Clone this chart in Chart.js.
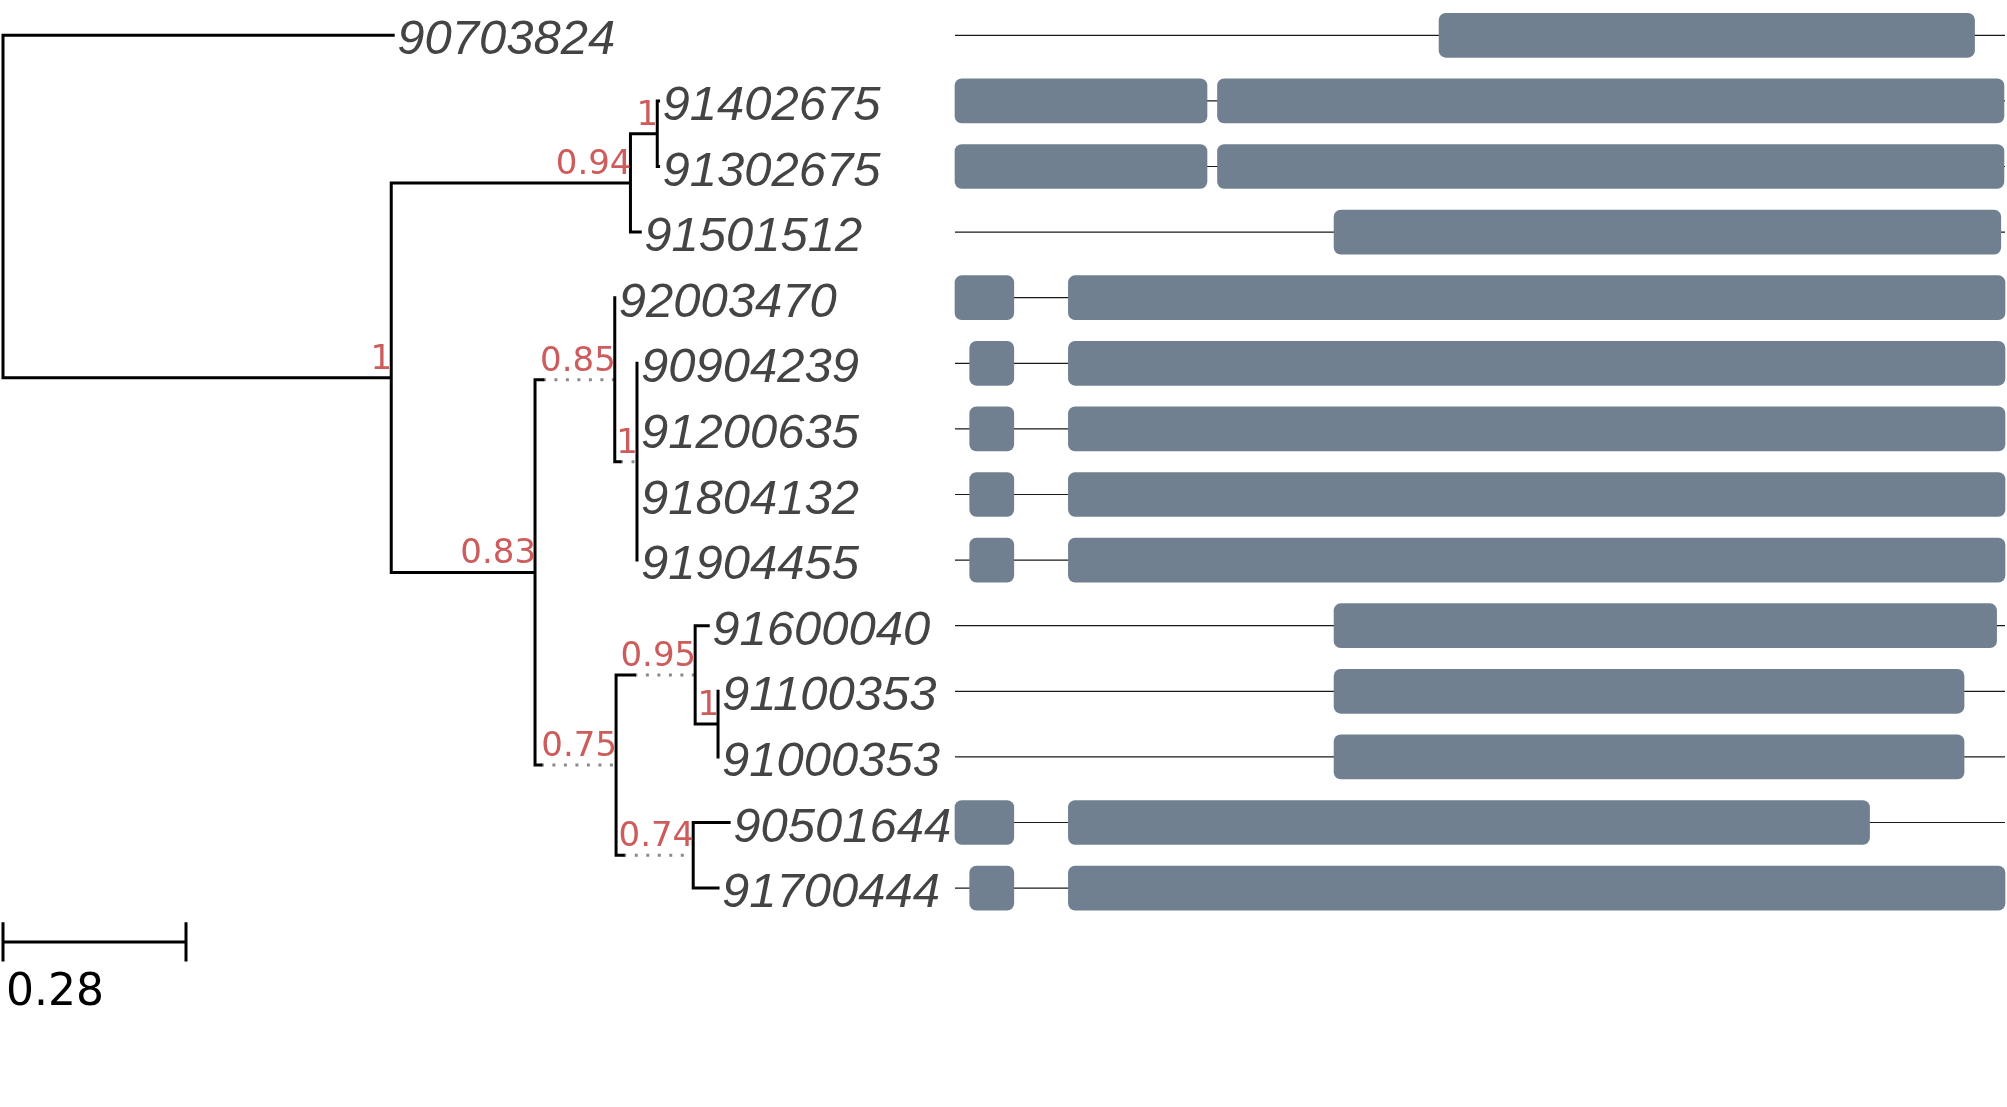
<!DOCTYPE html>
<html><head><meta charset="utf-8">
<script src="https://cdn.jsdelivr.net/npm/chart.js@4.4.0/dist/chart.umd.min.js"></script>
<style>html,body{margin:0;padding:0;background:#fff;overflow:hidden}#wrap{width:2007px;height:1107px;position:relative}</style>
</head><body><div id="wrap"><canvas id="c" width="2007" height="1107"></canvas></div>
<script>
// ---- tree data ----
const tipLabels = ['90703824','91402675','91302675','91501512','92003470','90904239','91200635','91804132','91904455','91600040','91100353','91000353','90501644','91700444'];
const tipParents = ['R','C','C','B','E','F','F','F','F','H','I','I','J','J'];
const tipBranchLengths = [0.597,0.002,0.002,0.015,0,0,0,0,0,0.020,0,0,0.055,0.038];
const nodeIds = ['R','A','B','C','D','E','F','G','H','I','J'];
const nodeParents = [null,'R','A','B','A','D','E','D','G','H','G'];
const nodeBranchLengths = [0,0.594,0.366,0.041,0.220,0.122,0.034,0.124,0.121,0.035,0.118];
const nodeSupport = ['','1','0.94','1','0.83','0.85','1','0.75','0.95','1','0.74'];
const nodeSolidLengths = [null,null,null,null,null,0.012,0.008,0.009,0.028,null,0.011];
const scaleBarLength = 0.28;
// ---- gene structure data ----
const geneLengths = [1000,1000,1000,1000,1000,1000,1000,1000,1000,1000,1000,1000,1000,1000];
const exon1 = [[461,971],[0,240],[0,240],[361,996],[0,56],[14,56],[14,56],[14,56],[14,56],[361,992],[361,961],[361,961],[0,56],[14,56]];
const exon2 = [null,[250,999],[250,999],null,[108,1000],[108,1000],[108,1000],[108,1000],[108,1000],null,null,null,[108,871],[108,1000]];

// ---- derive layout from tree ----
const nX = {}, nY = {};
nodeIds.forEach((id,i)=>{});
function nodeX(id){
  if (nX[id] !== undefined) return nX[id];
  const i = nodeIds.indexOf(id);
  const p = nodeParents[i];
  nX[id] = p === null ? 0 : nodeX(p) + nodeBranchLengths[i];
  return nX[id];
}
function childYs(id){
  const ys = [];
  tipParents.forEach((p,t)=>{ if(p===id) ys.push(t); });
  nodeIds.forEach((n,i)=>{ if(nodeParents[i]===id) ys.push(nodeY(n)); });
  return ys;
}
function nodeY(id){
  if (nY[id] !== undefined) return nY[id];
  const ys = childYs(id);
  nY[id] = ys.reduce((a,b)=>a+b,0)/ys.length;
  return nY[id];
}
nodeIds.forEach(id=>{nodeX(id);nodeY(id);});
const tipX = tipParents.map((p,t)=>nodeX(p)+tipBranchLengths[t]);

const GAP = {x:null,y:null};
const solid = [], dotted = [];
function seg(arr,x1,y1,x2,y2){ arr.push({x:x1,y:y1},{x:x2,y:y2},GAP); }
// verticals
nodeIds.forEach(id=>{
  const ys = childYs(id);
  seg(solid, nX[id], Math.min(...ys), nX[id], Math.max(...ys));
});
// node horizontals
nodeIds.forEach((id,i)=>{
  const p = nodeParents[i]; if (p===null) return;
  const s = nodeSolidLengths[i];
  if (s===null) seg(solid, nX[p], nY[id], nX[id], nY[id]);
  else { seg(solid, nX[p], nY[id], nX[p]+s, nY[id]); seg(dotted, nX[p]+s, nY[id], nX[id], nY[id]); }
});
// tip horizontals
tipParents.forEach((p,t)=>{ if (tipBranchLengths[t]>0) seg(solid, nX[p], t, tipX[t], t); });

const introns = [];
geneLengths.forEach((L,i)=>seg(introns,0,i,L,i));
const sbY = tipLabels.length - 1 + 0.82;
const scaleBar = [];
seg(scaleBar,0,sbY,scaleBarLength,sbY);
seg(scaleBar,0,sbY-0.3,0,sbY+0.3);
seg(scaleBar,scaleBarLength,sbY-0.3,scaleBarLength,sbY+0.3);

const toBars = arr => arr.map((e,i)=>({y:i,x:e})).filter(d=>d.x);

const textPlugin = {
  id:'treeText',
  afterDatasetsDraw(chart){
    const ctx = chart.ctx, xs = chart.scales.x, ys = chart.scales.y;
    ctx.save();
    ctx.font = 'italic 49px "Liberation Sans", Arial, sans-serif';
    ctx.fillStyle = '#444444'; ctx.textAlign='left'; ctx.textBaseline='alphabetic';
    tipLabels.forEach((l,t)=>ctx.fillText(l, xs.getPixelForValue(tipX[t])+4, ys.getPixelForValue(t)+19));
    ctx.font = '34px "DejaVu Sans", sans-serif';
    ctx.fillStyle = '#CD5C5C'; ctx.textAlign='right';
    nodeIds.forEach((id,i)=>{ if(nodeSupport[i]) ctx.fillText(nodeSupport[i], xs.getPixelForValue(nX[id])+1, ys.getPixelForValue(nY[id])-9); });
    ctx.font = '44px "DejaVu Sans", sans-serif';
    ctx.fillStyle = '#000'; ctx.textAlign='left';
    ctx.fillText(String(scaleBarLength), xs.getPixelForValue(0)+3, ys.getPixelForValue(sbY+0.96));
    ctx.restore();
  }
};

const lineBase = {type:'line', indexAxis:'x', yAxisID:'y', pointRadius:0, pointHoverRadius:0, fill:false, spanGaps:false, tension:0};

function draw(){
new Chart(document.getElementById('c'), {
  type:'bar',
  data:{ datasets:[
    Object.assign({}, lineBase, {label:'introns', xAxisID:'xg', data:introns, borderColor:'#1a1a1a', borderWidth:1.2, borderCapStyle:'butt', order:3}),
    {type:'bar', label:'exon1', indexAxis:'y', xAxisID:'xg', yAxisID:'y', data:toBars(exon1), backgroundColor:'#708090', borderWidth:0, borderRadius:7, borderSkipped:false, grouped:false, barThickness:44, maxBarThickness:44, order:1},
    {type:'bar', label:'exon2', indexAxis:'y', xAxisID:'xg', yAxisID:'y', data:toBars(exon2), backgroundColor:'#708090', borderWidth:0, borderRadius:7, borderSkipped:false, grouped:false, barThickness:44, maxBarThickness:44, order:1},
    Object.assign({}, lineBase, {label:'dotted', xAxisID:'x', data:dotted, borderColor:'#8a8a8a', borderWidth:3, borderDash:[3,8.5], borderCapStyle:'butt', order:2}),
    Object.assign({}, lineBase, {label:'tree', xAxisID:'x', data:solid, borderColor:'#000', borderWidth:3, borderCapStyle:'square', borderJoinStyle:'miter', order:0}),
    Object.assign({}, lineBase, {label:'scale', xAxisID:'x', data:scaleBar, borderColor:'#000', borderWidth:3, borderCapStyle:'butt', order:0})
  ]},
  options:{
    responsive:false, animation:false, devicePixelRatio:1,
    layout:{padding:0},
    plugins:{legend:{display:false}, tooltip:{enabled:false}, title:{display:false}},
    events:[],
    scales:{
      x:{type:'linear', axis:'x', position:'bottom', display:false, offset:false, min:-3/653.6, max:-3/653.6+2007/653.6},
      xg:{type:'linear', axis:'x', position:'top', display:false, offset:false, min:-955/1.05, max:-955/1.05+2007/1.05},
      y:{type:'linear', axis:'y', position:'left', display:false, offset:false, reverse:true, min:-35.3/65.6, max:-35.3/65.6+1107/65.6, ticks:{stepSize:1, includeBounds:false}}
    }
  },
  plugins:[textPlugin]
});
}
Promise.all([
  document.fonts.load('italic 49px "Liberation Sans"'),
  document.fonts.load('34px "DejaVu Sans"')
]).then(draw, draw);
</script></body></html>
